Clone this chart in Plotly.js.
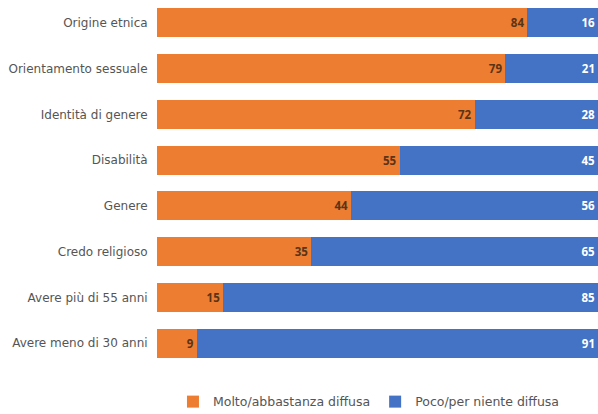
<!DOCTYPE html>
<html>
<head>
<meta charset="utf-8">
<script src="https://cdn.plot.ly/plotly-3.0.1.min.js"></script>
<style>html,body{margin:0;padding:0;background:#fff;}#chart{width:598px;height:414px;}</style>
</head>
<body>
<div id="chart"></div>
<script>
var categories = ["Origine etnica","Orientamento sessuale","Identità di genere","Disabilità","Genere","Credo religioso","Avere più di 55 anni","Avere meno di 30 anni"];
var diffusa = [84, 79, 72, 55, 44, 35, 15, 9];
var nonDiffusa = [16, 21, 28, 45, 56, 65, 85, 91];
var seriesNames = ["Molto/abbastanza diffusa", "Poco/per niente diffusa"];

var traces = [
  {type:'bar', orientation:'h', name:seriesNames[0], y:categories, x:diffusa,
   marker:{color:'#ED7D31'}, text:diffusa.map(String), textposition:'inside', insidetextanchor:'end',
   textfont:{family:'Open Sans', size:11.5, color:'#5a3417', weight:'bold'}, cliponaxis:true, hoverinfo:'none'},
  {type:'bar', orientation:'h', name:seriesNames[1], y:categories, x:nonDiffusa,
   marker:{color:'#4472C4'}, text:nonDiffusa.map(String), textposition:'inside', insidetextanchor:'end',
   textfont:{family:'Open Sans', size:11.5, color:'#ffffff', weight:'bold'}, cliponaxis:true, hoverinfo:'none'}
];
var layout = {
  width:598, height:414, barmode:'stack', bargap:0.365,
  margin:{l:157, r:0, t:0, b:48, autoexpand:false},
  paper_bgcolor:'#fff', plot_bgcolor:'#fff',
  font:{family:'DejaVu Sans', color:'#505050'},
  xaxis:{range:[0, 100], showgrid:false, zeroline:false, showticklabels:false, ticks:'', fixedrange:true},
  yaxis:{autorange:'reversed', type:'category', showgrid:false, zeroline:false, ticks:'outside', ticklen:6, tickcolor:'rgba(0,0,0,0)',
         tickfont:{family:'DejaVu Sans', size:12, color:'#555555'}, fixedrange:true},
  showlegend:true,
  legend:{orientation:'h', xref:'container', yref:'container', x:0.617, xanchor:'center', y:0.029, yanchor:'middle',
          font:{family:'DejaVu Sans', size:12.5, color:'#555555'}, itemwidth:30, traceorder:'normal'}
};
Plotly.newPlot('chart', traces, layout, {displayModeBar:false, staticPlot:true});
</script>
</body>
</html>
